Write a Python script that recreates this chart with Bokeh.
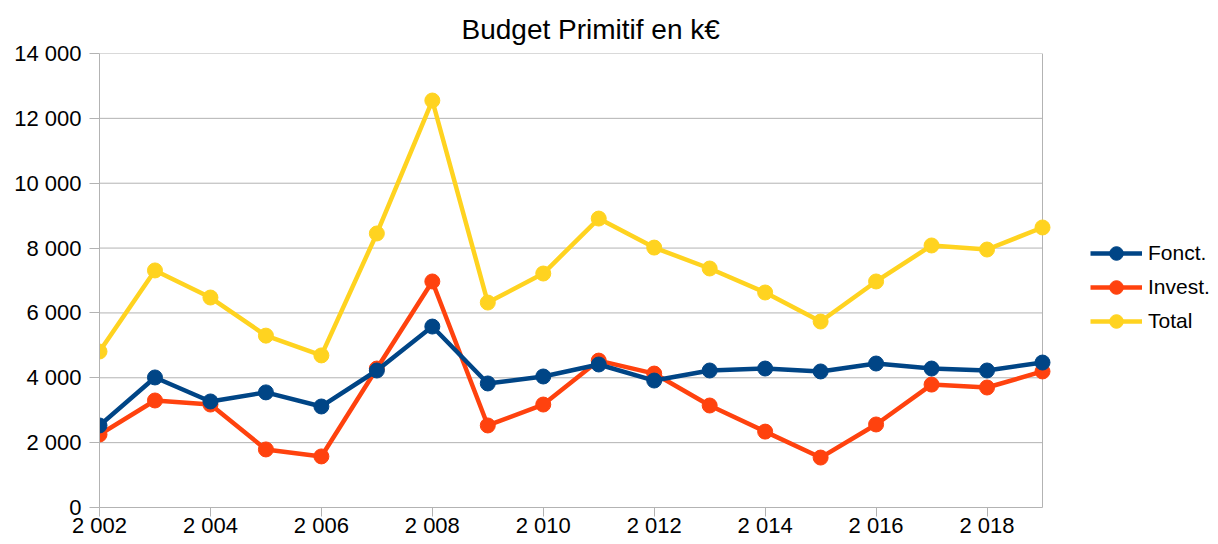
from bokeh.plotting import figure
from bokeh.models import Range1d, FixedTicker, Legend, LegendItem, Span
from bokeh.embed import file_html
from bokeh.resources import INLINE

years = list(range(2002, 2020))
fonct = [2530, 4010, 3270, 3550, 3115, 4225, 5580, 3825, 4040, 4410,
         3915, 4225, 4285, 4195, 4440, 4285, 4225, 4470]
invest = [2250, 3300, 3175, 1790, 1575, 4285, 6970, 2530, 3175, 4530,
          4130, 3145, 2340, 1540, 2560, 3790, 3700, 4195]
total = [4810, 7310, 6475, 5300, 4690, 8450, 12550, 6320, 7215, 8910,
         8015, 7370, 6630, 5735, 6970, 8080, 7955, 8635]

x_ticks = [2002, 2004, 2006, 2008, 2010, 2012, 2014, 2016, 2018]
x_tick_labels = ["2 002", "2 004", "2 006", "2 008", "2 010", "2 012", "2 014", "2 016", "2 018"]
y_ticks = [0, 2000, 4000, 6000, 8000, 10000, 12000, 14000]
y_tick_labels = ["0", "2 000", "4 000", "6 000", "8 000", "10 000", "12 000", "14 000"]

series_names = ["Fonct.", "Invest.", "Total"]
colors = ["#004586", "#ff420e", "#ffd320"]

FONT = "Liberation Sans"
GRID = "#b3b3b3"

W, H = 1210, 540
LEFT, TOP, BOTTOM = 99, 53, 33
PLOT_W = 943  # pixel width of the data area (2002..2019)
frame_w = W - LEFT
x_start, x_end = years[0], years[-1]
x_range_end = x_start + (x_end - x_start) * frame_w / PLOT_W

p = figure(width=W, height=H, output_backend="svg", toolbar_location=None,
           x_range=Range1d(x_start, x_range_end), y_range=Range1d(y_ticks[0], y_ticks[-1]),
           min_border_left=LEFT, min_border_right=0, min_border_top=TOP, min_border_bottom=BOTTOM)

p.title.text = "Budget Primitif en k€"
p.title.text_font = FONT
p.title.text_font_size = "28px"
p.title.text_font_style = "normal"
p.title.text_color = "#000000"
p.title.align = "left"
p.title.offset = 362
p.title.standoff = 18

p.outline_line_color = None
p.background_fill_color = "white"
p.border_fill_color = "white"

p.xgrid.visible = False
p.ygrid.visible = False
# horizontal grid lines limited to the data area
p.segment(x0=[x_start] * len(y_ticks), y0=y_ticks, x1=[x_end] * len(y_ticks), y1=y_ticks,
          line_color=GRID, line_width=1, level="underlay")
p.add_layout(Span(location=x_end, dimension="height", line_color=GRID, line_width=1, level="underlay"))

p.xaxis.ticker = FixedTicker(ticks=x_ticks)
p.xaxis.major_label_overrides = dict(zip(x_ticks, x_tick_labels))
p.xaxis.bounds = (x_start, x_end)
p.yaxis.ticker = FixedTicker(ticks=y_ticks)
p.yaxis.major_label_overrides = dict(zip(y_ticks, y_tick_labels))

for ax in (p.xaxis, p.yaxis):
    ax.axis_line_color = GRID
    ax.major_tick_line_color = GRID
    ax.minor_tick_line_color = None
    ax.major_tick_in = 0
    ax.major_label_text_font = FONT
    ax.major_label_text_font_size = "22px"
    ax.major_label_text_color = "#000000"
p.yaxis.major_tick_out = 10
p.yaxis.major_label_standoff = 8
p.xaxis.major_tick_out = 9
p.xaxis.major_label_standoff = -4

data = {"Fonct.": fonct, "Invest.": invest, "Total": total}
renderers = {}
for name, color in reversed(list(zip(series_names, colors))):
    ln = p.line(years, data[name], line_color=color, line_width=4.5)
    sc = p.scatter(years, data[name], marker="circle", size=15, fill_color=color, line_color=color)
    renderers[name] = [ln, sc]

legend = Legend(items=[LegendItem(label=n, renderers=renderers[n]) for n in series_names],
                location=(991, 169), margin=0, padding=0, spacing=0,
                glyph_width=52, glyph_height=34, label_height=34, label_standoff=6,
                label_text_font=FONT, label_text_font_size="21px", label_text_color="#000000",
                border_line_color=None, background_fill_color=None, background_fill_alpha=0)
p.add_layout(legend, "center")

open("out.html", "w").write(file_html(p, INLINE))
